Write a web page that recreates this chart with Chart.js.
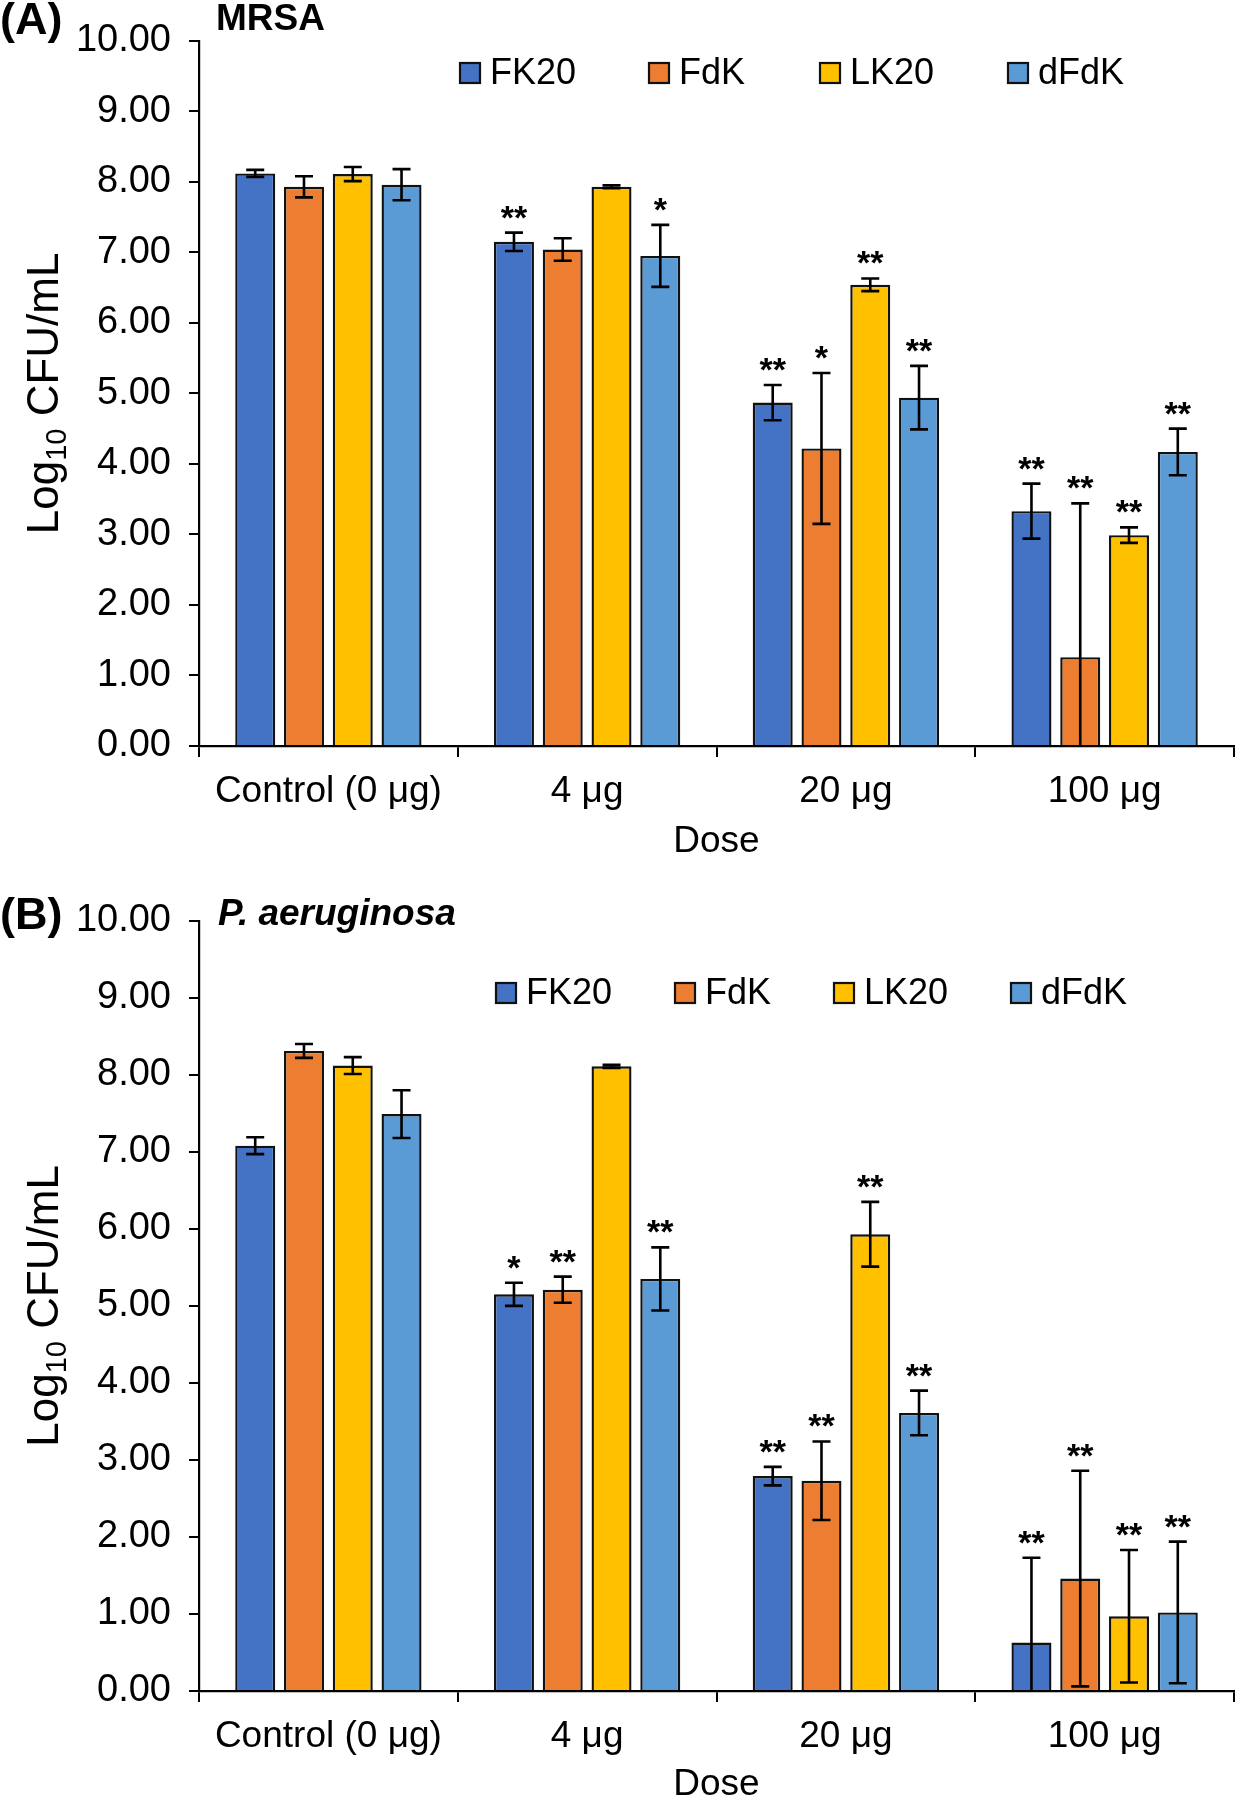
<!DOCTYPE html>
<html>
<head>
<meta charset="utf-8">
<script src="https://cdn.jsdelivr.net/npm/chart.js@4.4.1/dist/chart.umd.min.js"></script>
<style>
  body { margin: 0; background: #fff; }
  #boxA { position: relative; width: 1254px; height: 880px; }
  #boxB { position: relative; width: 1254px; height: 920px; }
</style>
</head>
<body>
<div id="boxA"><canvas id="chartA"></canvas></div>
<div id="boxB"><canvas id="chartB"></canvas></div>
<script>
const doses = ["Control (0 μg)", "4 μg", "20 μg", "100 μg"];
const peptides = ["FK20", "FdK", "LK20", "dFdK"];
const barColors = ["#4472C4", "#ED7D31", "#FFC000", "#5B9BD5"];

// (A) MRSA, log10 CFU/mL, mean and error
const mrsaFK20 = [8.12, 7.15, 4.87, 3.33];
const mrsaFK20Err = [0.05, 0.13, 0.25, 0.39];
const mrsaFdK = [7.93, 7.04, 4.22, 1.26];
const mrsaFdKErr = [0.15, 0.16, 1.07, 2.18];
const mrsaLK20 = [8.11, 7.93, 6.54, 2.99];
const mrsaLK20Err = [0.10, 0.02, 0.09, 0.11];
const mrsaDFdK = [7.96, 6.95, 4.94, 4.17];
const mrsaDFdKErr = [0.22, 0.44, 0.45, 0.33];
const mrsaStars = [
  ["", "**", "**", "**"],
  ["", "", "*", "**"],
  ["", "", "**", "**"],
  ["", "*", "**", "**"],
];

// (B) P. aeruginosa
const paFK20 = [7.08, 5.15, 2.79, 0.63];
const paFK20Err = [0.11, 0.15, 0.12, 1.10];
const paFdK = [8.31, 5.21, 2.73, 1.46];
const paFdKErr = [0.09, 0.17, 0.51, 1.40];
const paLK20 = [8.12, 8.11, 5.93, 0.97];
const paLK20Err = [0.11, 0.02, 0.42, 0.86];
const paDFdK = [7.49, 5.35, 3.61, 1.02];
const paDFdKErr = [0.31, 0.41, 0.29, 0.92];
const paStars = [
  ["", "*", "**", "**"],
  ["", "**", "**", "**"],
  ["", "", "**", "**"],
  ["", "**", "**", "**"],
];

const yMin = 0, yMax = 10, yStep = 1;
const FONT = "'Liberation Sans', Arial, sans-serif";

function makeDatasets(values, errors, stars) {
  return peptides.map((name, i) => ({
    label: name,
    data: values[i],
    errors: errors[i],
    stars: stars[i],
    backgroundColor: barColors[i],
    borderColor: "#111",
    borderWidth: 2.4,
    borderSkipped: "bottom",
    categoryPercentage: 0.754,
    barPercentage: 0.82,
  }));
}

// error bars, stars, legend, panel texts
const decor = {
  id: "decor",
  afterDatasetsDraw(chart, args, o) {
    const ctx = chart.ctx, y = chart.scales.y;
    ctx.save();
    chart.data.datasets.forEach((ds, i) => {
      chart.getDatasetMeta(i).data.forEach((bar, j) => {
        const v = ds.data[j], e = ds.errors[j];
        const top = y.getPixelForValue(v + e);
        const low = v - e;
        const bot = y.getPixelForValue(Math.max(0, low));
        ctx.strokeStyle = "#000";
        ctx.lineWidth = 2.6;
        ctx.beginPath();
        ctx.moveTo(bar.x, top); ctx.lineTo(bar.x, bot);
        ctx.moveTo(bar.x - 9, top); ctx.lineTo(bar.x + 9, top);
        if (low > 0) { ctx.moveTo(bar.x - 9, bot); ctx.lineTo(bar.x + 9, bot); }
        ctx.stroke();
        if (ds.stars[j]) {
          ctx.fillStyle = "#000";
          ctx.font = "bold 34px " + FONT;
          ctx.textAlign = "center";
          ctx.textBaseline = "alphabetic";
          ctx.fillText(ds.stars[j], bar.x, top - 4);
        }
      });
    });
    ctx.restore();
  },
  afterDraw(chart, args, o) {
    const ctx = chart.ctx, area = chart.chartArea;
    ctx.save();
    ctx.fillStyle = "#000";
    ctx.textBaseline = "middle";
    ctx.textAlign = "left";
    // panel letter and organism
    ctx.font = "bold 45px " + FONT;
    ctx.fillText(o.panel, 0, o.panelY);
    ctx.font = o.organismFont + " 37px " + FONT;
    ctx.fillText(o.organism, o.organismX, o.panelY - 2);
    // legend
    ctx.font = "36px " + FONT;
    chart.data.datasets.forEach((ds, i) => {
      const x = o.legendX[i];
      ctx.fillStyle = ds.backgroundColor;
      ctx.fillRect(x, o.legendY - 10, 20, 20);
      ctx.strokeStyle = "#111";
      ctx.lineWidth = 2.2;
      ctx.strokeRect(x, o.legendY - 10, 20, 20);
      ctx.fillStyle = "#000";
      ctx.fillText(ds.label, x + 30, o.legendY + 1);
    });
    // y title with subscript
    const cy = (area.top + area.bottom) / 2;
    ctx.translate(42, cy);
    ctx.rotate(-Math.PI / 2);
    ctx.textBaseline = "alphabetic";
    const big = "44px " + FONT, small = "29px " + FONT;
    ctx.font = big;
    const w1 = ctx.measureText("Log").width, w3 = ctx.measureText(" CFU/mL").width;
    ctx.font = small;
    const w2 = ctx.measureText("10").width;
    const sx = -(w1 + w2 + w3) / 2;
    ctx.font = big;
    ctx.fillText("Log", sx, 16);
    ctx.font = small;
    ctx.fillText("10", sx + w1, 24);
    ctx.font = big;
    ctx.fillText(" CFU/mL", sx + w1 + w2, 16);
    ctx.restore();
  },
};

function makeChart(id, datasets, pad, xHeight, titlePad, decorOpts) {
  return new Chart(document.getElementById(id), {
    type: "bar",
    data: { labels: doses, datasets: datasets },
    plugins: [decor],
    options: {
      responsive: true,
      maintainAspectRatio: false,
      animation: false,
      layout: { padding: { top: pad, right: 20, left: 0, bottom: 0 } },
      plugins: {
        legend: { display: false },
        tooltip: { enabled: false },
        decor: decorOpts,
      },
      scales: {
        x: {
          grid: { offset: true, drawOnChartArea: false, drawTicks: true, tickLength: 11, color: "#000", lineWidth: 2 },
          border: { color: "#000", width: 2.2 },
          ticks: { color: "#000", font: { family: FONT, size: 37 }, padding: 13 },
          title: { display: true, text: "Dose", color: "#000", font: { family: FONT, size: 37 }, padding: { top: 0, bottom: titlePad } },
          afterFit(s) { s.height = xHeight; },
        },
        y: {
          min: yMin, max: yMax,
          grid: { drawOnChartArea: false, drawTicks: true, tickLength: 10, color: "#000", lineWidth: 2 },
          border: { color: "#000", width: 2.2 },
          ticks: { stepSize: yStep, color: "#000", font: { family: FONT, size: 38 }, padding: 18, callback: v => v.toFixed(2) },
          afterFit(s) { s.width = 199; },
        },
      },
    },
  });
}

makeChart("chartA",
  makeDatasets([mrsaFK20, mrsaFdK, mrsaLK20, mrsaDFdK], [mrsaFK20Err, mrsaFdKErr, mrsaLK20Err, mrsaDFdKErr], mrsaStars),
  19.5, 134, 16,
  { panel: "(A)", panelY: 22, organism: "MRSA", organismX: 216, organismFont: "bold",
    legendX: [460, 649, 820, 1008], legendY: 73 });

makeChart("chartB",
  makeDatasets([paFK20, paFdK, paLK20, paDFdK], [paFK20Err, paFdKErr, paLK20Err, paDFdKErr], paStars),
  36, 109, -7,
  { panel: "(B)", panelY: 37, organism: "P. aeruginosa", organismX: 218, organismFont: "italic bold",
    legendX: [496, 675, 834, 1011], legendY: 113 });
</script>
</body>
</html>
